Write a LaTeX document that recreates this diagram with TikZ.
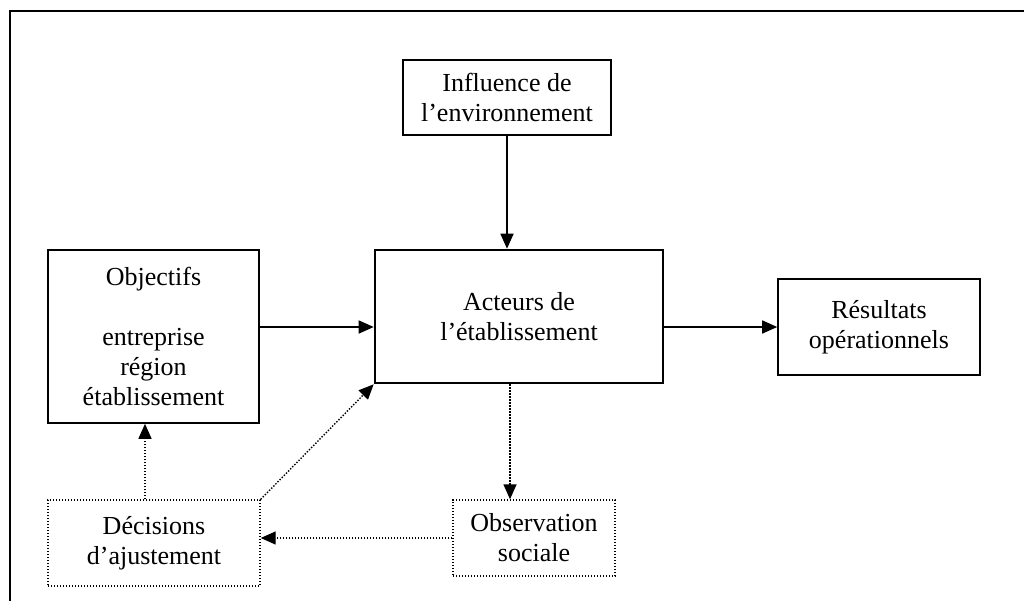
\documentclass[tikz,border=0pt]{standalone}
\usepackage{fontspec}
\setmainfont{Liberation Serif}
\usetikzlibrary{arrows.meta, calc}

\tikzset{
  box/.style={draw, line width=1.6pt, align=center, inner sep=0pt,
    font=\fontsize{26}{30}\selectfont},
  dotbox/.style={box, line width=1.4pt, dash pattern=on 1.4pt off 1.6pt},
  arr/.style={line width=1.6pt, -{Triangle[length=15pt,width=13pt]}},
  dotarr/.style={arr, line width=1.4pt, dash pattern=on 1.4pt off 1.6pt}
}

\begin{document}
\begin{tikzpicture}[x=1pt, y=-1pt]
        \useasboundingbox (0,0) rectangle (1024,600);
        \clip (0,0) rectangle (1024,600);
        \draw[line width=2.2pt] (10,11) rectangle (1040,620);
        
        \node[box, minimum width=208pt, minimum height=75pt] (infl) at (507,97.5) {Influence de\\l’environnement};
        \node[box, line width=2.6pt, minimum width=288pt, minimum height=133pt] (act) at (519,316.5) {Acteurs de\\l’établissement};
        \node[box, minimum width=202pt, minimum height=96pt] (res) at (879,327) {Résultats\\opérationnels};
        \node[box, minimum width=211pt, minimum height=173pt] (obj) at (153.5,336.5) {Objectifs\\[30pt]entreprise\\région\\établissement};
        
        \node[dotbox, minimum width=212pt, minimum height=86pt] (dec) at (154,543) {Décisions\\d’ajustement};
        \node[dotbox, minimum width=162pt, minimum height=76pt] (obs) at (534,538) {Observation\\sociale};
        
        \coordinate (ab) at ([xshift=-9pt]act.south);
        \coordinate (dn) at ([xshift=-9pt]dec.north);
        
        \draw[arr] (infl.south) -- (infl.south |- act.north);
        \draw[arr] (obj.east |- res.west) -- (act.west |- res.west);
        \draw[arr] (act.east |- res.west) -- (res.west);
        
        \draw[dotarr] (ab) -- (ab |- obs.north);
        \draw[dotarr] (obs.west) -- (obs.west -| dec.east);
        \draw[dotarr] (dn) -- (dn |- obj.south);
        \draw[dotarr] (dec.north east) -- (act.south west);
        
    \end{tikzpicture}
\end{document}
